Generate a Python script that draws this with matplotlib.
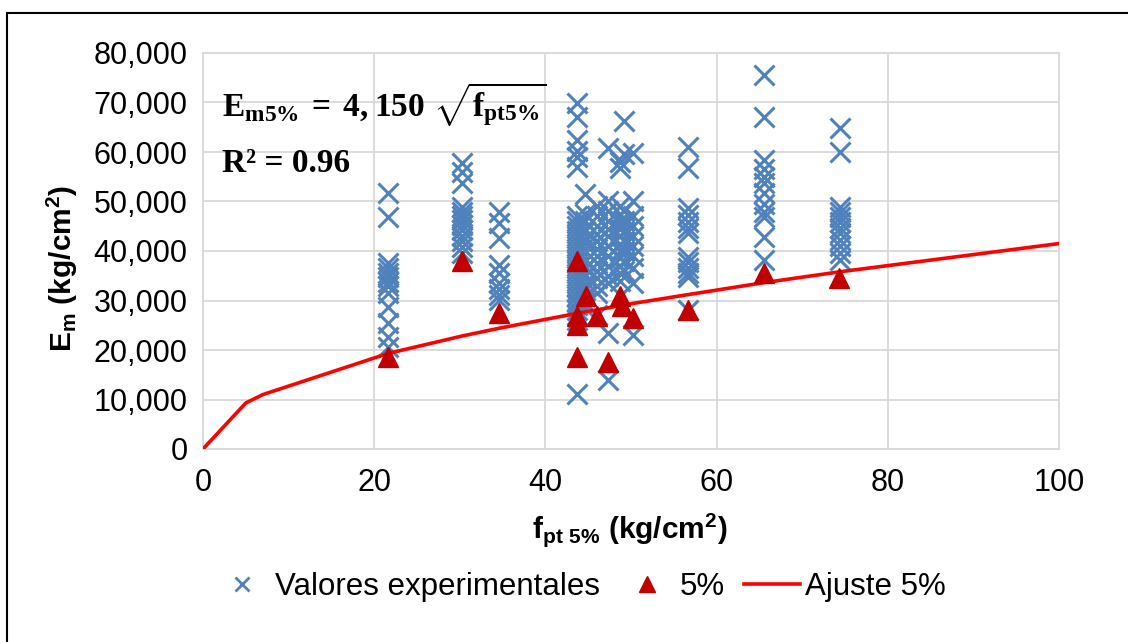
import matplotlib
matplotlib.use("Agg")
import matplotlib.pyplot as plt
from matplotlib.lines import Line2D
from matplotlib.patches import Rectangle
from matplotlib.ticker import FuncFormatter

plt.rcParams['font.family'] = ['Liberation Sans', 'DejaVu Sans']
plt.rcParams['mathtext.fontset'] = 'custom'
plt.rcParams['mathtext.rm'] = 'Liberation Serif:bold'
plt.rcParams['mathtext.bf'] = 'Liberation Serif:bold'
plt.rcParams['mathtext.sf'] = 'Liberation Sans:bold'

# experimental values, one list per f_pt column
col_x = [21.6, 30.2, 34.6, 43.7, 44.6, 46.0, 47.3, 48.7, 49.2, 50.2, 56.7, 65.5, 74.4]
col_em = [
    [51700, 46900, 37500, 36500, 35500, 34700, 33800, 33000, 31500, 28700, 25500, 22600, 20600],
    [57800, 56000, 53700, 48900, 47800, 47000, 46300, 45300, 44200, 43000, 42000, 40800, 39600],
    [47900, 45700, 42600, 37200, 35500, 33600, 32300, 31200, 30100],
    [69800, 67100, 62400, 60300, 59000, 57000, 47000, 46000, 45000, 44000, 43000, 42000,
     41000, 40000, 39000, 38000, 37000, 36000, 35000, 34000, 33000, 32000, 31000, 30000,
     29000, 28000, 27000, 26000, 11200],
    [51500, 47500, 46000, 44000, 42000, 40000, 38000, 36500, 35000, 33000, 31000, 29500, 28500],
    [49000, 47000, 45000, 43500, 42000, 40500, 39000, 37500, 36000, 34500, 33000, 31500, 27000],
    [60800, 50000, 48000, 46000, 44500, 43000, 41000, 39000, 37000, 35000, 33500, 23400, 13900],
    [58000, 56800, 49000, 47500, 46000, 44500, 43000, 41500, 40000, 38500, 37000, 35500, 34000],
    [66200, 59500, 48000, 46000, 44000, 42000, 40000, 38000, 36000],
    [59800, 50000, 47000, 45000, 43000, 41000, 39000, 36500, 33500, 23000],
    [61000, 56800, 48700, 47300, 45800, 44600, 43600, 38800, 37700, 36600, 35600, 34700, 28000],
    [75600, 67100, 58400, 56500, 55000, 53700, 51700, 49500, 47800, 46900, 42800, 38200],
    [64800, 60000, 48900, 47800, 46800, 45800, 44700, 43600, 42200, 41000, 39500, 38200],
]

# 5% characteristic values
p5_x = [21.6, 30.2, 34.6, 43.7, 43.7, 43.7, 43.7, 44.8, 46.0, 47.3, 48.7, 49.0, 50.2, 56.7, 65.5, 74.3]
p5_y = [18500, 37900, 27500, 38000, 26800, 25000, 18500, 31000, 26800, 17600, 31000, 28800, 26500,
        28000, 35500, 34500]

# fitted curve
fit_x = [0, 5, 7, 21.6, 30.2, 34.6, 43.7, 50.2, 56.7, 65.5, 74.4, 100]
fit_y = [0, 9300, 11000, 19300, 22800, 24400, 27400, 29400, 31200, 33600, 35800, 41500]

exp_x = [x for x, ys in zip(col_x, col_em) for _ in ys]
exp_y = [y for ys in col_em for y in ys]

blue = '#4F81BD'
dark_red = '#C00000'

fig = plt.figure(figsize=(11.28, 6.42), dpi=100)
ax = fig.add_axes([203 / 1128, 1 - 449 / 642, 856 / 1128, 396 / 642])

ax.plot(exp_x, exp_y, linestyle='none', marker='x', markersize=14, mew=2.2, color=blue, zorder=2)
ax.plot(fit_x, fit_y, color='#FF0000', lw=2.6, zorder=3)
ax.plot(p5_x, p5_y, linestyle='none', marker='^', markersize=15, color=dark_red, zorder=4)

ax.set_xlim(0, 100)
ax.set_ylim(0, 80000)
ax.set_xticks(range(0, 101, 20))
ax.set_yticks(range(0, 80001, 10000))
ax.yaxis.set_major_formatter(FuncFormatter(lambda v, p: f'{int(v):,}'))
ax.tick_params(length=0, labelsize=22, pad=11)
ax.tick_params(axis='x', pad=14)
ax.grid(True, color='#d9d9d9', lw=1.3)
ax.set_axisbelow(True)
for s in ax.spines.values():
    s.set_color('#d9d9d9')
    s.set_linewidth(1.3)

fig.text(630 / 1128, 1 - 530 / 642, r'f$\mathsf{_{pt\ 5\%}}$ (kg/cm$\mathsf{^2}$)',
         fontsize=21.5, fontweight='bold', ha='center', va='center')
fig.text(62 / 1128, 1 - 268 / 642, r'E$\mathsf{_m}$ (kg/cm$\mathsf{^2}$)',
         fontsize=21.5, fontweight='bold', ha='center', va='center', rotation=90)

ax.text(0.022, 0.87, r'$\mathbf{E_{m5\%}\,=\,4,150\;\sqrt{f_{pt5\%}}}$',
        transform=ax.transAxes, fontsize=24, va='center', ha='left')
ax.text(0.022, 0.72, 'R² = 0.96', transform=ax.transAxes, fontsize=24,
        fontweight='bold', family='Liberation Serif', va='center', ha='left')

handles = [
    Line2D([], [], linestyle='none', marker='x', markersize=10, mew=2, color=blue),
    Line2D([], [], linestyle='none', marker='^', markersize=11, color=dark_red),
    Line2D([], [], color='#FF0000', lw=2.6),
]
fig.legend(handles, ['Valores experimentales', '5%', 'Ajuste 5%'], loc='center',
           bbox_to_anchor=(0.514, 1 - 587 / 642), ncol=3, frameon=False, fontsize=22.5,
           handlelength=1.8, handletextpad=0.15, columnspacing=0.6)

fig.patches.append(Rectangle((7 / 1128, -0.1), 1.2, 1 - 13 / 642 + 0.1, transform=fig.transFigure,
                             fill=False, edgecolor='black', lw=1.5))

fig.savefig('out.png', dpi=100)
